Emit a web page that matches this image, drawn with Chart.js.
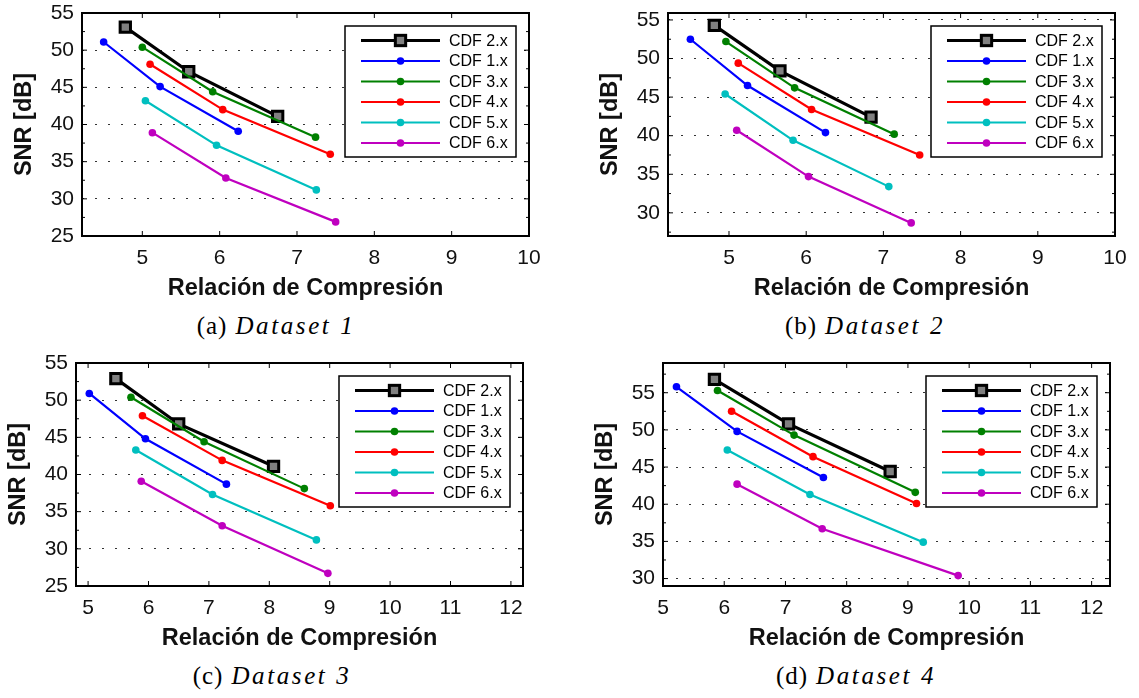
<!DOCTYPE html>
<html lang="es">
<head>
<meta charset="utf-8">
<title>SNR vs Relación de Compresión</title>
<script src="https://cdn.jsdelivr.net/npm/chart.js@4.4.1/dist/chart.umd.min.js"></script>
<style>
    body {
        margin: 0;
        background: #fff;
        width: 1139px;
        height: 698px;
        position: relative;
        overflow: hidden;
    }

    canvas {
        position: absolute;
    }

    .subtitulo {
        position: absolute;
        transform: translate(-50%, -50%);
        white-space: nowrap;
        font-family: "Liberation Serif", "Times New Roman", serif;
        font-size: 25px;
        color: #000;
        letter-spacing: 1px;
    }

    .subtitulo i {
        letter-spacing: 2.6px;
        margin-left: 8px;
    }
</style>
</head>
<body>

<canvas id="graficoA" width="560" height="306" style="left:0px;top:0px"></canvas>
<canvas id="graficoB" width="560" height="306" style="left:586px;top:0px"></canvas>
<canvas id="graficoC" width="560" height="306" style="left:-6px;top:350px"></canvas>
<canvas id="graficoD" width="560" height="306" style="left:581px;top:350px"></canvas>

<div class="subtitulo" style="left:276px;top:326px">(a)<i>Dataset 1</i></div>
<div class="subtitulo" style="left:865px;top:326px">(b)<i>Dataset 2</i></div>
<div class="subtitulo" style="left:272px;top:676px">(c)<i>Dataset 3</i></div>
<div class="subtitulo" style="left:856px;top:676px">(d)<i>Dataset 4</i></div>

<script>
// Series, en el orden de la leyenda
const ETIQUETAS = ["CDF 2.x", "CDF 1.x", "CDF 3.x", "CDF 4.x", "CDF 5.x", "CDF 6.x"];
const COLORES = ["#000000", "#0000ff", "#008000", "#ff0000", "#00bfbf", "#bf00bf"];

// Dataset 1
const relacion1 = [
    [4.78, 5.60, 6.75],
    [4.50, 5.23, 6.24],
    [5.00, 5.91, 7.24],
    [5.10, 6.04, 7.43],
    [5.04, 5.96, 7.25],
    [5.13, 6.08, 7.50]
];
const snr1 = [
    [53.1, 47.1, 41.1],
    [51.1, 45.1, 39.1],
    [50.4, 44.4, 38.3],
    [48.1, 42.0, 36.0],
    [43.2, 37.2, 31.2],
    [38.9, 32.8, 26.9]
];

// Dataset 2
const relacion2 = [
    [4.81, 5.66, 6.84],
    [4.50, 5.24, 6.25],
    [4.96, 5.85, 7.14],
    [5.12, 6.07, 7.47],
    [4.95, 5.83, 7.07],
    [5.10, 6.03, 7.36]
];
const snr2 = [
    [54.3, 48.4, 42.4],
    [52.5, 46.5, 40.4],
    [52.2, 46.2, 40.2],
    [49.4, 43.4, 37.5],
    [45.4, 39.4, 33.4],
    [40.7, 34.7, 28.7]
];

// Dataset 3
const relacion3 = [
    [5.46, 6.50, 8.07],
    [5.02, 5.95, 7.29],
    [5.71, 6.92, 8.58],
    [5.90, 7.22, 9.01],
    [5.79, 7.06, 8.78],
    [5.88, 7.22, 8.97]
];
const snr3 = [
    [52.9, 46.8, 41.1],
    [50.9, 44.8, 38.7],
    [50.4, 44.4, 38.1],
    [47.9, 41.9, 35.8],
    [43.3, 37.3, 31.2],
    [39.1, 33.1, 26.7]
];

// Dataset 4
const relacion4 = [
    [5.84, 7.05, 8.71],
    [5.22, 6.21, 7.62],
    [5.89, 7.14, 9.12],
    [6.12, 7.45, 9.14],
    [6.05, 7.40, 9.25],
    [6.21, 7.60, 9.82]
];
const snr4 = [
    [56.8, 50.8, 44.4],
    [55.8, 49.8, 43.6],
    [55.3, 49.3, 41.6],
    [52.5, 46.4, 40.1],
    [47.3, 41.3, 34.9],
    [42.7, 36.7, 30.4]
];

// Ejes
const ticksX1 = [5, 6, 7, 8, 9, 10];
const ticksX2 = [5, 6, 7, 8, 9, 10, 11, 12];
const ticksY1 = [25, 30, 35, 40, 45, 50, 55];
const ticksY2 = [30, 35, 40, 45, 50, 55];

const rangoXA = [4.22, 10];
const rangoYA = [25, 55];
const rangoXB = [4.21, 10];
const rangoYB = [27, 55.9];
const rangoXC = [4.8, 12.2];
const rangoYC = [25, 55];
const rangoXD = [5, 12.3];
const rangoYD = [29, 59];

const FUENTE = "'Liberation Sans', Arial, Helvetica, sans-serif";

// marco con ticks hacia dentro, estilo MATLAB
const marcoEjes = {
    id: "marcoEjes",
    afterDatasetsDraw(chart) {
        const { ctx, chartArea: a, scales } = chart;
        const linea = (x1, y1, x2, y2) => {
            ctx.beginPath();
            ctx.moveTo(x1, y1);
            ctx.lineTo(x2, y2);
            ctx.stroke();
        };

        ctx.save();
        ctx.strokeStyle = "#000";
        ctx.lineWidth = 1;

        scales.x.ticks.forEach(t => {
            const px = scales.x.getPixelForValue(t.value);
            linea(px, a.bottom, px, a.bottom - 5);
            linea(px, a.top, px, a.top + 5);
        });

        const valoresY = scales.y.ticks.map(t => t.value);
        valoresY.forEach(v => {
            const py = scales.y.getPixelForValue(v);
            linea(a.left, py, a.left + 5, py);
            linea(a.right, py, a.right - 5, py);
        });

        // ticks menores a mitad de camino
        const paso = valoresY[1] - valoresY[0];
        const menores = [valoresY[0] - paso / 2, ...valoresY.map(v => v + paso / 2)];
        menores
            .filter(v => v > scales.y.min && v < scales.y.max)
            .forEach(v => {
                const py = scales.y.getPixelForValue(v);
                linea(a.left, py, a.left + 3, py);
                linea(a.right, py, a.right - 3, py);
            });

        ctx.lineWidth = 2;
        ctx.strokeRect(a.left, a.top, a.right - a.left, a.bottom - a.top);
        ctx.restore();
    }
};

// leyenda con caja dentro del area, arriba a la derecha
const leyendaCaja = {
    id: "leyendaCaja",
    afterDraw(chart) {
        const { ctx, chartArea: a } = chart;
        const ancho = 171;
        const alto = 131;
        const x0 = a.right - 13 - ancho;
        const y0 = a.top + 13;

        ctx.save();
        ctx.fillStyle = "#fff";
        ctx.fillRect(x0, y0, ancho, alto);
        ctx.strokeStyle = "#000";
        ctx.lineWidth = 1.5;
        ctx.strokeRect(x0, y0, ancho, alto);

        chart.data.datasets.forEach((ds, i) => {
            const y = y0 + 14.5 + i * 20.5;
            const xm = x0 + 55.5;

            ctx.strokeStyle = ds.borderColor;
            ctx.lineWidth = ds.borderWidth;
            ctx.beginPath();
            ctx.moveTo(x0 + 16, y);
            ctx.lineTo(x0 + 95, y);
            ctx.stroke();

            if (ds.pointStyle === "rect") {
                const lado = ds.pointRadius * Math.SQRT2;
                ctx.fillStyle = ds.pointBackgroundColor;
                ctx.fillRect(xm - lado / 2, y - lado / 2, lado, lado);
                ctx.lineWidth = ds.pointBorderWidth;
                ctx.strokeStyle = ds.pointBorderColor;
                ctx.strokeRect(xm - lado / 2, y - lado / 2, lado, lado);
            } else {
                ctx.fillStyle = ds.pointBackgroundColor;
                ctx.beginPath();
                ctx.arc(xm, y, ds.pointRadius, 0, Math.PI * 2);
                ctx.fill();
            }

            ctx.fillStyle = "#000";
            ctx.font = `16px ${FUENTE}`;
            ctx.textAlign = "left";
            ctx.textBaseline = "middle";
            ctx.fillText(ds.label, x0 + 104, y + 1);
        });
        ctx.restore();
    }
};

function crearSeries(relaciones, snrs) {
    return ETIQUETAS.map((etiqueta, i) => {
        const puntos = relaciones[i].map((rel, j) => ({ x: rel, y: snrs[i][j] }));
        const esCdf2 = i === 0;

        return {
            label: etiqueta,
            data: puntos,
            borderColor: COLORES[i],
            borderWidth: esCdf2 ? 3.2 : 2.2,
            tension: 0,
            pointStyle: esCdf2 ? "rect" : "circle",
            pointRadius: esCdf2 ? 7.3 : 3.8,
            pointBorderWidth: esCdf2 ? 3 : 0,
            pointBackgroundColor: esCdf2 ? "#808080" : COLORES[i],
            pointBorderColor: esCdf2 ? "#000000" : COLORES[i],
            order: esCdf2 ? 10 : i
        };
    });
}

function crearGrafico(idCanvas, relaciones, snrs, rangoX, rangoY, ticksX, ticksY) {
    const contexto = document.getElementById(idCanvas);

    new Chart(contexto, {
        type: "line",
        data: {
            datasets: crearSeries(relaciones, snrs)
        },
        options: {
            responsive: false,
            animation: false,
            layout: {
                padding: { top: 13, right: 31, left: 0, bottom: 0 }
            },
            plugins: {
                legend: { display: false },
                tooltip: { enabled: false }
            },
            scales: {
                x: {
                    type: "linear",
                    min: rangoX[0],
                    max: rangoX[1],
                    afterBuildTicks: eje => {
                        eje.ticks = ticksX.map(v => ({ value: v }));
                    },
                    afterFit: eje => {
                        eje.height = 70;
                        eje.paddingLeft = 0;
                        eje.paddingRight = 0;
                    },
                    grid: { display: false, drawTicks: false },
                    border: { display: false },
                    ticks: {
                        color: "#111",
                        font: { family: FUENTE, size: 21 },
                        padding: 10,
                        maxRotation: 0,
                        autoSkip: false
                    },
                    title: {
                        display: true,
                        text: "Relación de Compresión",
                        color: "#111",
                        font: { family: FUENTE, size: 23.5, weight: "bold" },
                        padding: { top: 0, bottom: 3 }
                    }
                },
                y: {
                    type: "linear",
                    min: rangoY[0],
                    max: rangoY[1],
                    afterBuildTicks: eje => {
                        eje.ticks = ticksY.map(v => ({ value: v }));
                    },
                    afterFit: eje => {
                        eje.width = 82;
                        eje.paddingTop = 0;
                        eje.paddingBottom = 0;
                    },
                    grid: {
                        color: "#333",
                        lineWidth: 1,
                        drawTicks: false
                    },
                    border: { display: false, dash: [2, 11] },
                    ticks: {
                        color: "#111",
                        font: { family: FUENTE, size: 21 },
                        padding: 8
                    },
                    title: {
                        display: true,
                        text: "SNR [dB]",
                        color: "#111",
                        font: { family: FUENTE, size: 23.5, weight: "bold" },
                        padding: { top: 10, bottom: 0 }
                    }
                }
            }
        },
        plugins: [marcoEjes, leyendaCaja]
    });
}

crearGrafico("graficoA", relacion1, snr1, rangoXA, rangoYA, ticksX1, ticksY1);
crearGrafico("graficoB", relacion2, snr2, rangoXB, rangoYB, ticksX1, ticksY2);
crearGrafico("graficoC", relacion3, snr3, rangoXC, rangoYC, ticksX2, ticksY1);
crearGrafico("graficoD", relacion4, snr4, rangoXD, rangoYD, ticksX2, ticksY2);
</script>
</body>
</html>
